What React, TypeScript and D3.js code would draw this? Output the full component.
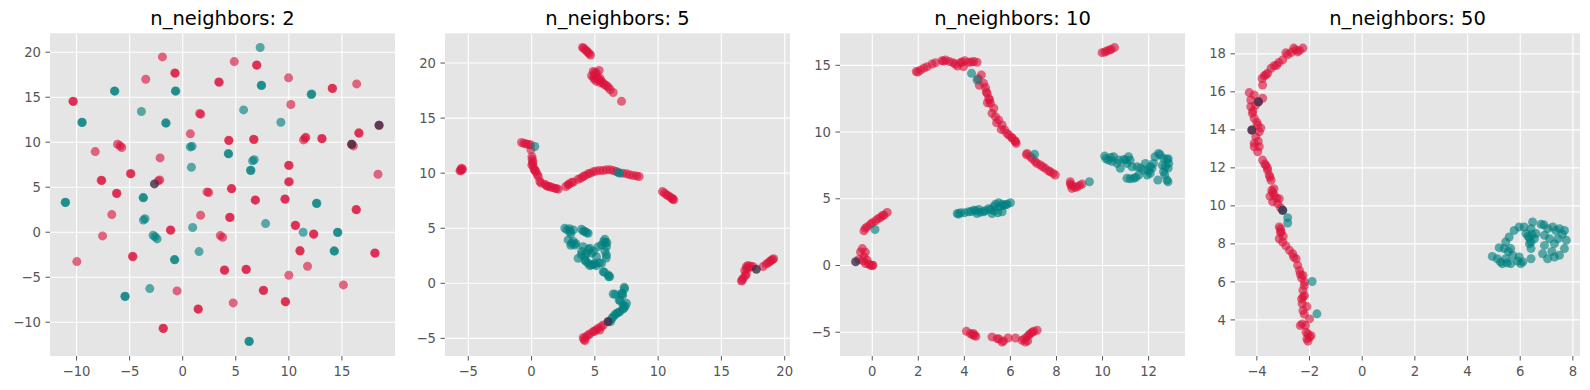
import React from 'react';
import * as d3 from 'd3';

type Pt = [number, number];

const titles = ['n_neighbors: 2', 'n_neighbors: 5', 'n_neighbors: 10', 'n_neighbors: 50'];

// panel 1 (n_neighbors: 2)
const p1Red: Pt[] = [
  [-1.91, 19.48], [4.86, 18.96], [6.96, 18.59], [6.99, 18.55], [-0.75, 17.7], [-0.7, 17.66], [-3.48, 17.0],
  [3.39, 16.7], [3.45, 16.66], [9.97, 17.15], [16.39, 16.48], [14.08, 16.0], [14.12, 15.97], [-10.34, 14.56],
  [-10.3, 14.52], [10.19, 14.19], [1.6, 13.19], [1.7, 13.12], [0.72, 10.93], [4.33, 10.22], [4.36, 10.18],
  [6.68, 10.33], [6.72, 10.3], [11.38, 10.26], [11.53, 10.45], [11.6, 10.55], [13.1, 10.41], [13.14, 10.38],
  [16.58, 11.04], [16.62, 11.0], [-6.14, 9.78], [-5.9, 9.6], [-5.74, 9.41], [-8.24, 8.96], [16.08, 9.59],
  [-2.13, 8.26], [9.97, 7.44], [10.03, 7.42], [-4.92, 6.52], [-4.87, 6.48], [18.4, 6.44], [-7.68, 5.78],
  [-7.62, 5.75], [-2.16, 5.81], [-2.3, 5.7], [9.97, 5.59], [10.05, 5.62], [-6.24, 4.33], [-6.19, 4.3],
  [2.29, 4.48], [2.45, 4.4], [4.58, 4.85], [4.63, 4.82], [6.83, 3.59], [6.86, 3.56], [9.62, 3.7], [9.66, 3.67],
  [16.33, 2.52], [16.37, 2.49], [-6.68, 1.96], [1.69, 1.89], [4.42, 1.67], [4.47, 1.64], [-7.55, -0.41],
  [-1.16, 0.26], [-1.12, 0.22], [3.54, -0.37], [3.76, -0.56], [10.6, 0.78], [10.64, 0.75], [12.32, -0.19],
  [12.36, -0.22], [-4.73, -2.67], [-4.68, -2.72], [-9.97, -3.26], [11.03, -2.04], [11.07, -2.08],
  [18.09, -2.3], [18.13, -2.33], [3.92, -4.19], [3.96, -4.22], [5.96, -4.11], [6.0, -4.14], [11.76, -3.78],
  [10.0, -4.78], [15.14, -5.85], [-0.53, -6.52], [7.59, -6.44], [7.63, -6.47], [4.76, -7.85], [9.66, -7.7],
  [9.7, -7.74], [1.44, -8.52], [1.48, -8.56], [-1.85, -10.67], [-1.81, -10.7], [18.5, 11.89], [15.92, 9.78]
];
const p1Teal: Pt[] = [
  [7.3, 20.52], [7.4, 16.33], [7.44, 16.3], [-6.43, 15.7], [-6.39, 15.67], [-0.69, 15.7], [-0.65, 15.67],
  [12.1, 15.3], [12.16, 15.36], [-3.89, 13.41], [5.74, 13.59], [-9.5, 12.22], [-9.46, 12.19], [-1.6, 12.15],
  [-1.56, 12.12], [9.25, 12.22], [0.72, 9.48], [0.88, 9.55], [4.29, 8.74], [4.33, 8.7], [6.58, 7.93],
  [6.74, 8.05], [0.82, 7.22], [6.39, 6.89], [6.43, 6.86], [-11.07, 3.33], [-11.03, 3.3], [-3.73, 3.85],
  [-3.69, 3.82], [12.6, 3.22], [12.64, 3.19], [-3.7, 1.35], [-3.55, 1.5], [0.94, 0.52], [7.81, 0.96],
  [-2.79, -0.33], [-2.6, -0.5], [-2.41, -0.74], [11.35, 0.0], [14.58, 0.0], [14.62, -0.03], [-0.78, -3.04],
  [-0.74, -3.07], [1.54, -2.15], [14.26, -2.07], [14.3, -2.1], [-5.45, -7.11], [-5.41, -7.14],
  [-3.1, -6.26], [6.24, -12.11], [6.28, -12.14]
];
const p1Dark: Pt[] = [[18.5, 11.89], [15.92, 9.78], [-2.66, 5.37]];

// panel 2 (n_neighbors: 5)
const p2Red: Pt[] = [
  [-5.66, 10.21], [-5.53, 10.45], [-5.6, 10.3], [-5.45, 10.35], [-5.55, 10.25],
  [4.03, 21.42], [4.24, 21.21], [4.45, 20.97], [4.66, 20.73], [4.1, 21.35], [4.35, 21.1], [4.55, 20.85],
  [4.87, 19.24], [5.13, 19.09], [4.74, 18.85], [5.39, 18.64], [5.13, 18.33], [5.66, 18.18], [5.92, 17.94],
  [6.45, 17.33], [7.11, 16.52], [4.95, 18.55], [5.34, 19.33], [6.05, 17.82], [5.0, 18.9], [5.5, 18.4],
  [5.0, 19.15], [5.2, 18.7], [5.3, 18.45], [4.9, 18.7], [5.45, 18.2], [5.75, 18.05], [6.2, 17.6],
  [-0.79, 12.79], [-0.45, 12.67], [-0.08, 12.58], [-0.05, 12.12], [-0.6, 12.7], [-0.25, 12.6],
  [0.05, 11.27], [0.08, 10.91], [0.13, 10.61], [0.21, 10.36], [0.34, 10.15], [0.53, 9.7], [0.66, 9.24],
  [1.05, 9.0], [1.18, 8.85], [1.45, 8.79], [1.84, 8.64], [2.11, 8.55], [2.71, 8.79], [2.89, 8.94],
  [3.16, 9.15], [3.68, 9.45], [4.08, 9.7], [4.47, 9.94], [4.87, 10.12], [5.39, 10.24], [5.66, 10.24],
  [5.92, 10.3], [6.45, 10.24], [7.5, 9.94], [7.76, 9.85], [8.03, 9.79], [8.5, 9.7], [0.1, 11.05],
  [0.03, 11.5], [0.02, 10.75], [0.25, 10.25], [0.45, 9.9], [0.75, 9.1], [1.3, 8.8], [1.6, 8.7], [1.95, 8.6],
  [2.95, 9.0], [3.3, 9.2], [3.9, 9.55], [4.25, 9.8], [4.65, 10.0], [5.1, 10.2], [6.2, 10.3], [6.7, 10.15],
  [7.2, 10.0], [8.3, 9.75],
  [10.34, 8.33], [10.66, 8.03], [10.97, 7.82], [11.24, 7.58], [11.1, 7.7], [10.5, 8.2], [10.8, 7.95],
  [11.15, 7.65],
  [16.58, 0.21], [16.71, 0.45], [16.97, 0.85], [16.97, 1.52], [17.11, 1.61], [17.5, 1.52], [18.29, 1.52],
  [18.55, 1.76], [18.82, 1.97], [19.13, 2.24], [16.84, 1.15], [17.3, 1.55], [16.65, 0.3], [16.9, 0.7],
  [17.0, 1.35], [17.2, 1.4], [18.7, 1.85], [18.95, 2.1], [19.05, 2.15],
  [5.66, -3.79], [5.26, -4.09], [4.87, -4.39], [4.47, -4.7], [4.08, -4.94], [4.21, -5.21], [5.39, -4.24],
  [6.05, -3.48], [4.3, -4.85], [4.6, -4.6], [4.95, -4.35], [5.1, -4.25], [5.5, -3.95], [4.15, -5.1]
];
const p2Teal: Pt[] = [
  [0.26, 12.42], [6.84, 10.06], [6.97, 10.0],
  [2.63, 5.0], [3.03, 4.7], [3.29, 4.85], [2.89, 3.94], [3.16, 3.64], [3.42, 3.48], [3.95, 4.91],
  [4.21, 4.7], [4.47, 4.55], [4.08, 3.33], [4.34, 2.73], [3.95, 2.58], [4.21, 2.12], [4.47, 1.82],
  [4.74, 1.67], [5.0, 1.82], [5.13, 2.42], [4.74, 2.73], [4.61, 3.18], [5.26, 3.33], [5.53, 3.48],
  [5.79, 4.0], [5.92, 3.33], [5.92, 2.58], [5.53, 1.82], [5.66, 1.06], [6.05, 0.76], [6.18, 0.61],
  [3.95, 2.88], [3.68, 2.27], [5.85, 3.7],
  [2.8, 4.85], [3.1, 4.5], [3.3, 3.8], [3.1, 3.45], [3.5, 3.6], [4.1, 4.75], [4.35, 4.6], [4.2, 2.5],
  [4.3, 2.0], [4.6, 1.6], [4.9, 1.7], [5.1, 1.6], [4.9, 2.9], [4.5, 3.1], [5.7, 3.8], [5.95, 3.7],
  [5.8, 2.9], [5.9, 2.3], [5.35, 1.85], [5.75, 1.0], [6.1, 0.6], [3.0, 4.95],
  [7.32, -0.36], [7.16, -0.91], [6.45, -0.97], [6.92, -1.52], [7.24, -1.97], [7.5, -1.82], [7.29, -2.27],
  [6.97, -2.58], [6.71, -2.73], [6.45, -3.03], [6.24, -3.48], [7.35, -0.5], [7.2, -1.1], [6.6, -1.0],
  [7.0, -1.6], [7.4, -2.1], [7.2, -2.35], [6.85, -2.65], [6.6, -2.85], [6.35, -3.2], [7.1, -0.95]
];
const p2Dark: Pt[] = [[17.76, 1.27], [6.05, -3.48]];

// panel 3 (n_neighbors: 10)
const p3Red: Pt[] = [
  [-0.51, 1.02], [-0.43, 1.27], [-0.36, 0.65], [-0.29, 0.15], [-0.07, 0.02], [0.03, 0.02], [-0.58, 0.45],
  [-0.22, 0.4], [-0.3, 1.0], [-0.4, 0.35], [-0.15, 0.1], [0.0, 0.0],
  [-0.36, 2.6], [-0.22, 2.9], [-0.07, 3.1], [0.14, 3.35], [0.36, 3.6], [0.51, 3.78], [0.65, 3.98],
  [0.0, 3.2], [0.25, 3.5], [0.45, 3.75], [-0.3, 2.8],
  [1.91, 14.53], [2.1, 14.65], [2.39, 14.9], [2.6, 15.1], [2.75, 15.2], [3.03, 15.35], [3.18, 15.4],
  [3.35, 15.28], [3.61, 15.1], [3.83, 15.2], [4.02, 15.35], [4.19, 15.23], [4.41, 15.28], [4.55, 15.23],
  [3.96, 14.9], [4.74, 14.28], [4.84, 13.65], [4.92, 13.33], [4.99, 12.9], [5.06, 12.53], [5.13, 12.15],
  [5.2, 11.4], [5.28, 11.78], [5.35, 11.15], [5.49, 10.9], [5.64, 10.53], [5.75, 10.15], [5.93, 9.78],
  [6.08, 9.53], [6.22, 9.28], [6.25, 9.15], [6.72, 8.4], [6.87, 8.15], [7.08, 7.78], [7.3, 7.53],
  [7.51, 7.28], [7.73, 7.03], [7.95, 6.78],
  [1.98, 14.5], [2.25, 14.8], [3.1, 15.3], [3.5, 15.2], [3.7, 14.95], [3.9, 15.25], [4.3, 15.25],
  [4.6, 14.0], [4.65, 13.5], [4.95, 13.0], [5.1, 12.4], [5.0, 12.2], [5.4, 10.7], [5.6, 10.2], [5.85, 9.9],
  [6.05, 9.6], [6.2, 9.35], [6.7, 8.3], [6.95, 8.0], [7.15, 7.65], [7.4, 7.4], [7.65, 7.1], [7.85, 6.9],
  [8.6, 6.28], [8.67, 5.78], [8.89, 5.9], [9.11, 6.1], [8.65, 6.0], [8.8, 5.85], [8.6, 6.1], [9.0, 6.0],
  [9.98, 15.95], [10.19, 16.08], [10.38, 16.2], [10.52, 16.33], [10.1, 16.0], [10.3, 16.15],
  [4.09, -4.93], [4.26, -5.1], [4.44, -5.23], [5.2, -5.35], [5.42, -5.48], [5.64, -5.73], [5.9, -5.43],
  [6.22, -5.43], [6.51, -5.6], [6.72, -5.35], [6.87, -5.1], [7.01, -4.93], [7.16, -4.85], [6.65, -5.73],
  [4.35, -5.2], [4.4, -5.1], [5.5, -5.5], [5.7, -5.65], [6.8, -5.2], [6.95, -5.0], [6.6, -5.5],
  [6.75, -5.65], [4.5, -5.3]
];
const p3Teal: Pt[] = [
  [0.12, 2.7], [4.31, 14.4], [4.55, 13.9], [7.05, 8.33], [9.43, 6.28],
  [3.69, 3.9], [3.83, 3.95], [4.19, 4.03], [4.41, 4.15], [4.63, 4.2], [4.84, 4.03], [5.13, 4.2],
  [5.28, 4.4], [5.35, 4.6], [5.49, 4.7], [5.64, 4.6], [5.2, 3.9], [5.64, 4.03], [6.0, 4.7], [5.86, 4.6],
  [4.55, 3.9], [3.75, 3.85], [4.0, 3.95], [4.3, 4.05], [4.5, 4.1], [4.7, 4.0], [4.9, 4.1], [5.05, 4.25],
  [5.3, 4.1], [5.45, 3.95], [5.55, 4.4], [5.7, 4.5], [5.8, 4.55],
  [10.09, 8.2], [10.26, 7.9], [10.48, 8.15], [10.63, 7.65], [10.77, 7.28], [10.92, 7.95], [11.13, 8.15],
  [11.06, 7.65], [11.28, 7.4], [11.06, 6.53], [11.35, 6.53], [11.57, 6.78], [11.5, 7.4], [11.79, 7.15],
  [11.94, 6.78], [12.07, 6.9], [12.21, 7.65], [12.28, 8.15], [12.43, 8.4], [12.4, 6.4], [12.65, 8.03],
  [12.8, 7.95], [12.87, 7.65], [12.72, 7.4], [12.65, 7.03], [12.84, 6.28], [11.86, 7.65], [12.07, 7.4],
  [10.15, 8.0], [10.4, 7.8], [10.7, 7.9], [11.0, 7.9], [11.2, 6.5], [11.45, 6.6], [11.65, 7.3], [12.0, 7.1],
  [12.15, 7.3], [12.5, 8.3], [12.6, 7.5], [12.85, 8.0], [12.85, 7.3], [12.8, 6.4], [12.7, 6.8],
  [11.2, 7.9], [10.35, 8.1]
];
const p3Dark: Pt[] = [[-0.72, 0.28]];

// panel 4 (n_neighbors: 50)
const p4Red: Pt[] = [
  [-2.25, 18.3], [-2.38, 18.18], [-2.54, 18.21], [-2.7, 18.07], [-2.83, 17.95], [-3.02, 17.68],
  [-3.17, 17.54], [-3.34, 17.37], [-3.46, 17.24], [-3.59, 16.98], [-3.72, 16.84], [-3.78, 16.36],
  [-4.29, 15.96], [-4.1, 15.84], [-4.23, 15.57], [-3.78, 15.66], [-4.23, 15.22], [-4.17, 14.87],
  [-4.1, 14.61], [-3.97, 14.25], [-3.91, 13.9], [-4.04, 13.64], [-4.1, 13.11], [-3.91, 13.11],
  [-3.97, 12.85], [-3.78, 12.41], [-3.66, 12.14], [-3.59, 11.88], [-3.53, 11.62], [-3.46, 11.35],
  [-3.43, 10.82], [-3.34, 10.56], [-3.4, 10.21], [-3.21, 10.12], [-3.15, 10.38], [-3.15, 8.89],
  [-3.08, 8.63], [-3.15, 8.27], [-3.02, 8.1], [-2.76, 7.66], [-2.64, 7.48], [-2.51, 7.22], [-2.45, 6.87],
  [-2.38, 6.6], [-2.25, 6.34], [-2.19, 5.99], [-2.25, 5.55], [-2.19, 5.28], [-2.28, 4.85], [-2.25, 4.49],
  [-2.0, 4.05], [-2.28, 3.79], [-2.15, 3.7], [-2.06, 3.26], [-1.94, 3.17], [-2.06, 2.88], [-2.13, 3.35],
  [-3.94, 15.48], [-4.19, 13.99], [-3.1, 8.6], [-3.4, 10.7],
  [-4.05, 15.3], [-4.15, 15.0], [-4.0, 14.4], [-3.85, 14.1], [-4.1, 13.3], [-3.95, 13.4], [-3.7, 12.2],
  [-3.6, 12.0], [-3.5, 11.5], [-3.35, 10.9], [-3.25, 10.4], [-3.5, 10.5], [-3.1, 9.9], [-3.1, 8.8],
  [-3.0, 8.4], [-2.9, 7.9], [-2.6, 7.3], [-2.35, 6.4], [-2.2, 5.8], [-2.3, 5.1], [-2.2, 4.3], [-2.35, 3.7],
  [-2.1, 3.0], [-2.0, 3.1], [-2.9, 18.05], [-2.6, 18.3], [-2.45, 18.1], [-3.25, 17.4], [-3.65, 16.9],
  [-3.8, 16.7], [-2.3, 6.2], [-2.25, 5.2], [-2.1, 4.7]
];
const p4Teal: Pt[] = [
  [-3.02, 9.77], [-2.83, 9.38], [-2.83, 9.1], [-1.9, 6.02], [-1.72, 4.32],
  [4.94, 7.34], [5.13, 7.22], [5.32, 6.96], [5.45, 7.22], [5.39, 7.75], [5.45, 8.1], [5.58, 8.36],
  [5.77, 8.71], [5.96, 8.89], [6.15, 8.89], [6.41, 8.8], [6.47, 9.15], [6.79, 9.03], [7.04, 8.8],
  [7.24, 8.89], [7.49, 8.8], [7.68, 8.71], [7.75, 8.19], [7.68, 7.75], [7.49, 7.4], [7.3, 7.31],
  [7.04, 7.22], [6.85, 7.48], [6.92, 7.92], [7.3, 8.01], [7.11, 8.27], [6.92, 8.45], [6.54, 8.27],
  [6.41, 8.1], [6.41, 7.75], [6.41, 7.22], [5.96, 7.31], [6.02, 6.96], [5.64, 6.96], [5.71, 7.4],
  [5.64, 7.75], [6.22, 8.54], [6.6, 8.54], [7.43, 8.27], [6.35, 8.3],
  [5.25, 7.05], [5.5, 7.0], [5.9, 7.1], [6.3, 8.4], [6.45, 8.5], [6.35, 8.0], [7.2, 7.6], [7.35, 8.7],
  [7.6, 8.5], [5.55, 7.6], [6.1, 7.05], [6.9, 9.0], [5.2, 7.8]
];
const p4Dark: Pt[] = [[-3.94, 15.48], [-4.19, 13.99], [-3.02, 9.77]];

const xDomains: Pt[] = [[-12.5, 20.0], [-6.84, 20.42], [-1.4, 13.58], [-4.83, 8.27]];
const yDomains: Pt[] = [[-13.75, 22.1], [-6.6, 22.7], [-6.78, 17.4], [2.1, 19.08]];
const xTicks = [
  [-10, -5, 0, 5, 10, 15],
  [-5, 0, 5, 10, 15, 20],
  [0, 2, 4, 6, 8, 10, 12],
  [-4, -2, 0, 2, 4, 6, 8]
];
const yTicks = [
  [-10, -5, 0, 5, 10, 15, 20],
  [-5, 0, 5, 10, 15, 20],
  [-5, 0, 5, 10, 15],
  [4, 6, 8, 10, 12, 14, 16, 18]
];

const redSeries = [p1Red, p2Red, p3Red, p4Red];
const tealSeries = [p1Teal, p2Teal, p3Teal, p4Teal];
const darkSeries = [p1Dark, p2Dark, p3Dark, p4Dark];

const W = 1590, H = 390;
const panelW = 345, gap = 50, left0 = 50, top = 33.3, bottom = 356;
const font = '"DejaVu Sans", sans-serif';
const fmt = (v: number) => (v < 0 ? '\u2212' + Math.abs(v) : String(v));

function Panel({ i }: { i: number }) {
  const x0 = left0 + i * (panelW + gap);
  const x = d3.scaleLinear().domain(xDomains[i]).range([x0, x0 + panelW]);
  const y = d3.scaleLinear().domain(yDomains[i]).range([bottom, top]);
  const dots = (pts: Pt[], fill: string, op: number) =>
    pts.map((p, k) => <circle key={k} cx={x(p[0])} cy={y(p[1])} r={4.5} fill={fill} fillOpacity={op} />);
  return (
    <g>
      <rect x={x0} y={top} width={panelW} height={bottom - top} fill="#E5E5E5" />
      {xTicks[i].map(t => (
        <line key={'gx' + t} x1={x(t)} x2={x(t)} y1={top} y2={bottom} stroke="#fff" strokeWidth={1.1} />
      ))}
      {yTicks[i].map(t => (
        <line key={'gy' + t} x1={x0} x2={x0 + panelW} y1={y(t)} y2={y(t)} stroke="#fff" strokeWidth={1.1} />
      ))}
      {dots(redSeries[i], '#DC143C', 0.62)}
      {dots(tealSeries[i], '#008080', 0.62)}
      {dots(darkSeries[i], '#40304a', 0.8)}
      {xTicks[i].map(t => (
        <g key={'tx' + t}>
          <line x1={x(t)} x2={x(t)} y1={bottom} y2={bottom + 4.5} stroke="#555" strokeWidth={1} />
          <text x={x(t)} y={376} textAnchor="middle" fontSize={13.2} fill="#555" fontFamily={font}>{fmt(t)}</text>
        </g>
      ))}
      {yTicks[i].map(t => (
        <g key={'ty' + t}>
          <line x1={x0 - 4.5} x2={x0} y1={y(t)} y2={y(t)} stroke="#555" strokeWidth={1} />
          <text x={x0 - 9} y={y(t)} dy="0.35em" textAnchor="end" fontSize={13.2} fill="#555" fontFamily={font}>{fmt(t)}</text>
        </g>
      ))}
      <text x={x0 + panelW / 2} y={25} textAnchor="middle" fontSize={19.5} fill="#000" fontFamily={font}>{titles[i]}</text>
    </g>
  );
}

export default function App() {
  return (
    <svg width={W} height={H} style={{ position: 'absolute', left: 0, top: 0, background: '#fff' }}>
      {titles.map((_, i) => <Panel key={i} i={i} />)}
    </svg>
  );
}
